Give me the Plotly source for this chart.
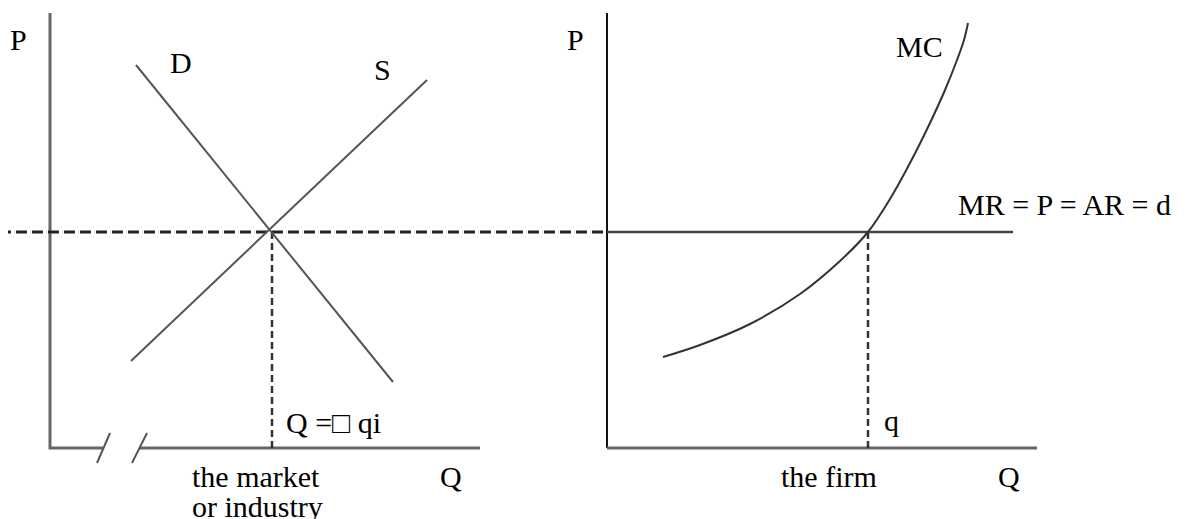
'''
Concurrence parfaite : le marché (offre / demande) et la firme (MC, MR = P)
'''

import plotly.graph_objects as go

# repère du dessin : x vers la droite, y vers le haut (0..1188, 0..519)
W = 1188
H = 519
# la page html garde une marge de 8px autour du graphique
MARGE = 8

# prix d'équilibre (ligne pointillée commune aux deux graphiques)
p_eq = 287

# graphique de gauche : le marché
axe1_x = [50, 50, 103]
axe1_y = [506, 71, 71]
axe1b_x = [140, 480]
axe1b_y = [71, 71]
coupure1_x = [97, 110]
coupure2_x = [132, 147]
coupure_y = [56, 86]

demande_q = [136, 393]
demande_p = [454, 137]
offre_q = [131, 427]
offre_p = [158, 439]
q_marche = 272

# graphique de droite : la firme
axe2v_x = [607, 607]
axe2v_y = [506, 71]
axe2h_x = [607, 1037]
axe2h_y = [71, 71]

mr_q = [607, 1013]
mc_q = [663, 700, 750, 800, 840, 868, 890, 910, 930, 945, 957, 964, 968]
mc_p = [162, 174, 195, 225, 258, 287, 320, 356, 396, 429, 459, 479, 496]
q_firme = 868

FONT = dict(family='Liberation Serif', size=30, color='black')

data = []


def ligne(x, y, color, width, dash='solid', shape='linear'):
    data.append(go.Scatter(x=x, y=y, mode='lines', hoverinfo='skip', showlegend=False,
                           line=dict(color=color, width=width, dash=dash, shape=shape)))


# axes
ligne(axe1_x, axe1_y, '#666666', 3)
ligne(axe1b_x, axe1b_y, '#666666', 3)
ligne(coupure1_x, coupure_y, '#555555', 2)
ligne(coupure2_x, coupure_y, '#555555', 2)
ligne(axe2v_x, axe2v_y, '#111111', 2)
ligne(axe2h_x, axe2h_y, '#666666', 3)

# pointillés
ligne([0, axe2v_x[0]], [p_eq, p_eq], '#222222', 3, dash='11px,5px')
ligne([q_marche, q_marche], [p_eq, 71], '#333333', 2.5, dash='7px,4px')
ligne([q_firme, q_firme], [p_eq, 71], '#333333', 2.5, dash='7px,4px')

# courbes
ligne(demande_q, demande_p, '#555555', 2)
ligne(offre_q, offre_p, '#555555', 2)
ligne(mr_q, [p_eq, p_eq], '#444444', 2.5)
ligne(mc_q, mc_p, '#333333', 2, shape='spline')

labels = [
    ('P', 18, 480, 'center'),
    ('D', 181, 457, 'center'),
    ('S', 382, 450, 'center'),
    ('Q =\u25a1 qi', 284, 97, 'left'),
    ('the market', 256, 43, 'center'),
    ('or industry', 257, 13, 'center'),
    ('Q', 451, 43, 'center'),
    ('P', 575, 480, 'center'),
    ('MC', 919, 473, 'center'),
    ('MR = P = AR = d', 956, 315, 'left'),
    ('q', 882, 99, 'left'),
    ('the firm', 829, 43, 'center'),
    ('Q', 1009, 43, 'center'),
]

annotations = []
for texte, x, y, align in labels:
    annotations.append(dict(text=texte, x=x, y=y, xref='x', yref='y', showarrow=False,
                            xanchor=align, yanchor='middle', font=FONT))

layout = go.Layout(
    width=W,
    height=H,
    margin=dict(l=0, r=0, t=0, b=0),
    paper_bgcolor='white',
    plot_bgcolor='white',
    xaxis=dict(range=[MARGE, W + MARGE], visible=False, fixedrange=True),
    yaxis=dict(range=[-MARGE, H - MARGE], visible=False, fixedrange=True),
    annotations=annotations,
    showlegend=False
)

fig = go.Figure(data=data, layout=layout)

fig.write_html("out.html")
